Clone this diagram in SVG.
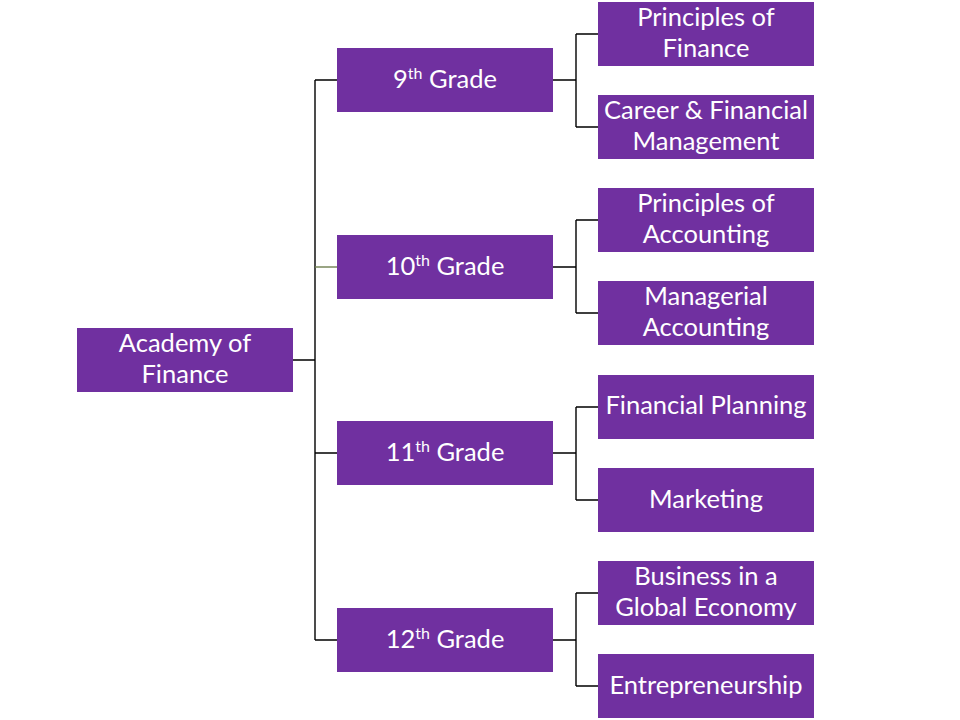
<svg xmlns="http://www.w3.org/2000/svg" width="960" height="720" viewBox="0 0 960 720">
<style>
.box{fill:#7030A0}
.t{font-family:Lato,"Liberation Sans",sans-serif;font-size:25.5px;fill:#ffffff;text-anchor:middle}
.sup{font-size:16px}
.c{stroke:#000;stroke-width:1.4;fill:none}
</style>
<rect width="960" height="720" fill="#fff"/>
<g id="connectors">
<path class="c" d="M293,360H315M315,80V640M315,80H337M315,453H337M315,640H337"/>
<path d="M315,267H337" stroke="#6f7f4f" stroke-width="1.4" fill="none"/>
<path class="c" d="M553,80H576M576,34V127M576,34H598M576,127H598"/>
<path class="c" d="M553,267H576M576,220V313M576,220H598M576,313H598"/>
<path class="c" d="M553,453H576M576,407V500M576,407H598M576,500H598"/>
<path class="c" d="M553,640H576M576,593V686M576,593H598M576,686H598"/>
</g>
<g id="root"><rect class="box" x="77" y="328" width="216" height="64"/><text class="t" x="185" y="352">Academy of</text><text class="t" x="185" y="383">Finance</text></g>
<g id="g9"><rect class="box" x="337" y="48" width="216" height="64"/><text class="t" x="445" y="88">9<tspan class="sup" dy="-9">th</tspan><tspan dy="9"> Grade</tspan></text></g>
<g id="g10"><rect class="box" x="337" y="235" width="216" height="64"/><text class="t" x="445" y="275">10<tspan class="sup" dy="-9">th</tspan><tspan dy="9"> Grade</tspan></text></g>
<g id="g11"><rect class="box" x="337" y="421" width="216" height="64"/><text class="t" x="445" y="461">11<tspan class="sup" dy="-9">th</tspan><tspan dy="9"> Grade</tspan></text></g>
<g id="g12"><rect class="box" x="337" y="608" width="216" height="64"/><text class="t" x="445" y="648">12<tspan class="sup" dy="-9">th</tspan><tspan dy="9"> Grade</tspan></text></g>
<g id="l1"><rect class="box" x="598" y="2" width="216" height="64"/><text class="t" x="706" y="26">Principles of</text><text class="t" x="706" y="57">Finance</text></g>
<g id="l2"><rect class="box" x="598" y="95" width="216" height="64"/><text class="t" x="706" y="119">Career &amp; Financial</text><text class="t" x="706" y="150">Management</text></g>
<g id="l3"><rect class="box" x="598" y="188" width="216" height="64"/><text class="t" x="706" y="212">Principles of</text><text class="t" x="706" y="243">Accounting</text></g>
<g id="l4"><rect class="box" x="598" y="281" width="216" height="64"/><text class="t" x="706" y="305">Managerial</text><text class="t" x="706" y="336">Accounting</text></g>
<g id="l5"><rect class="box" x="598" y="375" width="216" height="64"/><text class="t" x="706" y="414">Financial Planning</text></g>
<g id="l6"><rect class="box" x="598" y="468" width="216" height="64"/><text class="t" x="706" y="508">Marketing</text></g>
<g id="l7"><rect class="box" x="598" y="561" width="216" height="64"/><text class="t" x="706" y="585">Business in a</text><text class="t" x="706" y="616">Global Economy</text></g>
<g id="l8"><rect class="box" x="598" y="654" width="216" height="64"/><text class="t" x="706" y="694">Entrepreneurship</text></g>
</svg>
